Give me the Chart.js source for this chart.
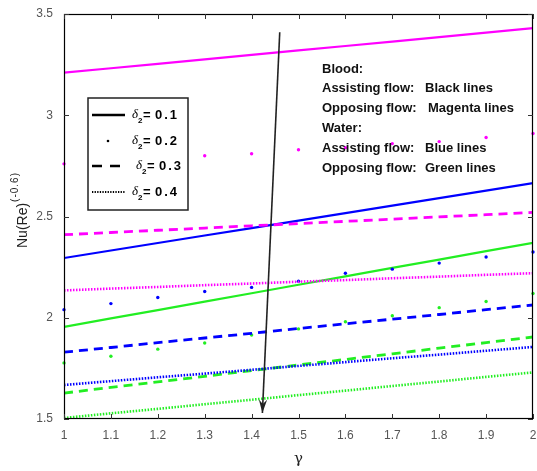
<!DOCTYPE html>
<html>
<head>
  <meta charset="UTF-8">
  <title>Nu(Re)^(-0.6) vs gamma</title>
  <script src="https://cdn.jsdelivr.net/npm/chart.js"></script>
  <style>
    body { margin: 0; background: #fff; }
    #wrap { width: 537px; height: 471px; }
  </style>
</head>
<body>
  <div id="wrap"><canvas id="nuChart"></canvas></div>

  <script>
    // gamma values on the x axis
    const gamma = [1, 1.1, 1.2, 1.3, 1.4, 1.5, 1.6, 1.7, 1.8, 1.9, 2];
    const xTicks = ['1', '1.1', '1.2', '1.3', '1.4', '1.5', '1.6', '1.7', '1.8', '1.9', '2'];
    const yTicks = [1.5, 2, 2.5, 3, 3.5];

    // blood, opposing flow (magenta)
    const bloodOpp01 = [3.210, 3.232, 3.254, 3.276, 3.298, 3.320, 3.342, 3.364, 3.386, 3.408, 3.430];
    const bloodOpp02 = [2.76, 2.77, 2.79, 2.80, 2.81, 2.83, 2.84, 2.86, 2.87, 2.89, 2.91];
    const bloodOpp03 = [2.410, 2.421, 2.432, 2.443, 2.454, 2.465, 2.476, 2.487, 2.498, 2.509, 2.520];
    const bloodOpp04 = [2.135, 2.144, 2.152, 2.161, 2.169, 2.178, 2.186, 2.195, 2.203, 2.212, 2.220];

    // water, assisting flow (blue)
    const waterAss01 = [2.295, 2.332, 2.369, 2.406, 2.443, 2.480, 2.517, 2.554, 2.591, 2.628, 2.665];
    const waterAss02 = [2.04, 2.07, 2.10, 2.13, 2.15, 2.18, 2.22, 2.24, 2.27, 2.30, 2.325];
    const waterAss03 = [1.830, 1.853, 1.877, 1.900, 1.923, 1.947, 1.970, 1.993, 2.016, 2.040, 2.063];
    const waterAss04 = [1.668, 1.687, 1.706, 1.724, 1.743, 1.762, 1.781, 1.800, 1.818, 1.837, 1.856];

    // water, opposing flow (green)
    const waterOpp01 = [1.955, 1.997, 2.038, 2.080, 2.121, 2.163, 2.204, 2.246, 2.287, 2.329, 2.370];
    const waterOpp02 = [1.777, 1.81, 1.845, 1.875, 1.915, 1.945, 1.98, 2.01, 2.05, 2.08, 2.12];
    const waterOpp03 = [1.628, 1.656, 1.683, 1.711, 1.739, 1.767, 1.794, 1.822, 1.850, 1.877, 1.905];
    const waterOpp04 = [1.505, 1.528, 1.550, 1.573, 1.595, 1.618, 1.640, 1.663, 1.685, 1.708, 1.730];

    const legendVals = ['0.1', '0.2', '0.3', '0.4'];
    const noteLines = [
      ['Blood:', ''],
      ['Assisting flow:', 'Black lines'],
      ['Opposing flow:', 'Magenta lines'],
      ['Water:', ''],
      ['Assisting flow:', 'Blue lines'],
      ['Opposing flow:', 'Green lines']
    ];

    const MAG = '#ff00ff', BLUE = '#0000ff', GREEN = '#22ee22';

    function pts(vals) {
      return gamma.map((g, i) => ({ x: g, y: vals[i] }));
    }

    function solid(vals, color) {
      return { data: pts(vals), borderColor: color, borderWidth: 2.2, pointRadius: 0, tension: 0 };
    }
    function dots(vals, color) {
      return { data: pts(vals), showLine: false, pointRadius: 1.7, pointBorderWidth: 0,
               backgroundColor: color, borderColor: color, clip: false };
    }
    function dashed(vals, color) {
      return { data: pts(vals), borderColor: color, borderWidth: 2.8, borderDash: [9, 6], pointRadius: 0 };
    }
    function dotted(vals, color) {
      return { data: pts(vals), borderColor: color, borderWidth: 2.6, borderDash: [1.5, 1.5], pointRadius: 0 };
    }

    const datasets = [
      solid(bloodOpp01, MAG), dots(bloodOpp02, MAG), dashed(bloodOpp03, MAG), dotted(bloodOpp04, MAG),
      solid(waterAss01, BLUE), dots(waterAss02, BLUE), dashed(waterAss03, BLUE), dotted(waterAss04, BLUE),
      solid(waterOpp01, GREEN), dots(waterOpp02, GREEN), dashed(waterOpp03, GREEN), dotted(waterOpp04, GREEN)
    ];

    // frame, inward ticks, labels, legend box, notes and arrow
    const decor = {
      id: 'decor',
      afterDatasetsDraw(chart) {
        const ctx = chart.ctx;
        const a = chart.chartArea;
        const xs = chart.scales.x, ys = chart.scales.y;
        ctx.save();

        // frame
        ctx.strokeStyle = '#000';
        ctx.lineWidth = 1.2;
        ctx.strokeRect(a.left + 0.5, a.top + 0.5, a.right - a.left - 1, a.bottom - a.top - 1);

        // ticks on all four sides, pointing inwards
        ctx.strokeStyle = '#333';
        ctx.lineWidth = 1;
        ctx.beginPath();
        gamma.forEach(g => {
          const px = Math.round(xs.getPixelForValue(g)) + 0.5;
          ctx.moveTo(px, a.bottom); ctx.lineTo(px, a.bottom - 5);
          ctx.moveTo(px, a.top); ctx.lineTo(px, a.top + 5);
        });
        yTicks.forEach(v => {
          const py = Math.round(ys.getPixelForValue(v)) + 0.5;
          ctx.moveTo(a.left, py); ctx.lineTo(a.left + 5, py);
          ctx.moveTo(a.right, py); ctx.lineTo(a.right - 5, py);
        });
        ctx.stroke();

        // arrow
        const x0 = xs.getPixelForValue(1.46), y0 = ys.getPixelForValue(3.41);
        const x1 = xs.getPixelForValue(1.423), y1 = ys.getPixelForValue(1.53);
        ctx.strokeStyle = '#222';
        ctx.fillStyle = '#222';
        ctx.lineWidth = 1.6;
        ctx.beginPath();
        ctx.moveTo(x0, y0); ctx.lineTo(x1, y1);
        ctx.stroke();
        const ang = Math.atan2(y1 - y0, x1 - x0);
        ctx.beginPath();
        ctx.moveTo(x1, y1);
        ctx.lineTo(x1 - 14 * Math.cos(ang - 0.3), y1 - 14 * Math.sin(ang - 0.3));
        ctx.lineTo(x1 - 9 * Math.cos(ang), y1 - 9 * Math.sin(ang));
        ctx.lineTo(x1 - 14 * Math.cos(ang + 0.3), y1 - 14 * Math.sin(ang + 0.3));
        ctx.closePath();
        ctx.fill();

        // legend box
        ctx.fillStyle = '#fff';
        ctx.fillRect(88, 98, 100, 112);
        ctx.strokeStyle = '#222';
        ctx.lineWidth = 1.5;
        ctx.strokeRect(88, 98, 100, 112);

        const rows = [115, 141, 166, 192];
        ctx.strokeStyle = '#000';
        ctx.fillStyle = '#000';
        ctx.lineWidth = 2.6;
        ctx.setLineDash([]);
        ctx.beginPath(); ctx.moveTo(92, rows[0]); ctx.lineTo(125, rows[0]); ctx.stroke();
        ctx.beginPath(); ctx.arc(108, rows[1], 1.3, 0, Math.PI * 2); ctx.fill();
        ctx.setLineDash([10, 8]);
        ctx.beginPath(); ctx.moveTo(92, rows[2]); ctx.lineTo(128, rows[2]); ctx.stroke();
        ctx.setLineDash([1.3, 1.3]);
        ctx.lineWidth = 2.2;
        ctx.beginPath(); ctx.moveTo(92, rows[3]); ctx.lineTo(125, rows[3]); ctx.stroke();
        ctx.setLineDash([]);

        ctx.textBaseline = 'middle';
        ctx.textAlign = 'left';
        legendVals.forEach((v, i) => {
          const tx = i === 2 ? 136 : 132;
          const ty = rows[i];
          ctx.font = 'italic 13px "Liberation Serif"';
          ctx.fillText('\u03b4', tx, ty);
          ctx.font = 'bold 8px "Liberation Sans"';
          ctx.fillText('2', tx + 6, ty + 6);
          ctx.font = 'bold 13px "Liberation Sans"';
          ctx.fillText('=', tx + 11, ty);
          ctx.letterSpacing = '2px';
          ctx.fillText(v, tx + 23, ty);
          ctx.letterSpacing = '0px';
        });

        // notes
        ctx.font = 'bold 13px "Liberation Sans"';
        ctx.fillStyle = '#111';
        noteLines.forEach((ln, i) => {
          const ty = 69 + i * 19.8;
          ctx.fillText(ln[0], 322, ty);
          if (ln[1]) ctx.fillText(ln[1], i === 2 ? 428 : 425, ty);
        });

        // axis titles
        ctx.fillStyle = '#222';
        ctx.font = '15px "DejaVu Serif"';
        ctx.textAlign = 'center';
        ctx.fillText('\u03b3', (a.left + a.right) / 2, 459);

        ctx.translate(23, 210);
        ctx.rotate(-Math.PI / 2);
        ctx.textAlign = 'left';
        ctx.font = '14px "Liberation Sans"';
        const base = 'Nu(Re)';
        const bw = ctx.measureText(base).width;
        ctx.font = '10px "Liberation Sans"';
        ctx.letterSpacing = '1px';
        const sup = '(-0.6)';
        const sw = ctx.measureText(sup).width;
        const start = -(bw + sw + 1) / 2;
        ctx.letterSpacing = '0px';
        ctx.font = '14px "Liberation Sans"';
        ctx.fillText(base, start, 0);
        ctx.font = '10px "Liberation Sans"';
        ctx.letterSpacing = '1px';
        ctx.fillText(sup, start + bw + 1, -8);

        ctx.restore();
      }
    };

    const config = {
      type: 'line',
      data: { datasets: datasets },
      options: {
        responsive: false,
        animation: false,
        layout: { padding: { top: 14, right: 3, left: 0, bottom: 0 } },
        plugins: {
          legend: { display: false },
          tooltip: { enabled: false }
        },
        scales: {
          x: {
            type: 'linear',
            min: 1,
            max: 2,
            grid: { display: false },
            border: { display: false },
            afterFit: s => { s.height = 52; s.paddingLeft = 0; s.paddingRight = 0; },
            afterBuildTicks: s => { s.ticks = gamma.map(v => ({ value: v })); },
            ticks: {
              padding: 1,
              color: '#555',
              font: { family: 'Liberation Sans', size: 12 },
              maxRotation: 0,
              autoSkip: false,
              callback: (v, i) => xTicks[i]
            }
          },
          y: {
            min: 1.5,
            max: 3.5,
            grid: { display: false },
            border: { display: false },
            afterFit: s => { s.width = 64; s.paddingTop = 0; s.paddingBottom = 0; },
            afterBuildTicks: s => { s.ticks = yTicks.map(v => ({ value: v })); },
            ticks: {
              padding: 3,
              color: '#555',
              font: { family: 'Liberation Sans', size: 12 },
              callback: v => String(v)
            }
          }
        }
      },
      plugins: [decor]
    };

    const cv = document.getElementById('nuChart');
    cv.width = 537;
    cv.height = 471;
    new Chart(cv, config);
  </script>
</body>
</html>
